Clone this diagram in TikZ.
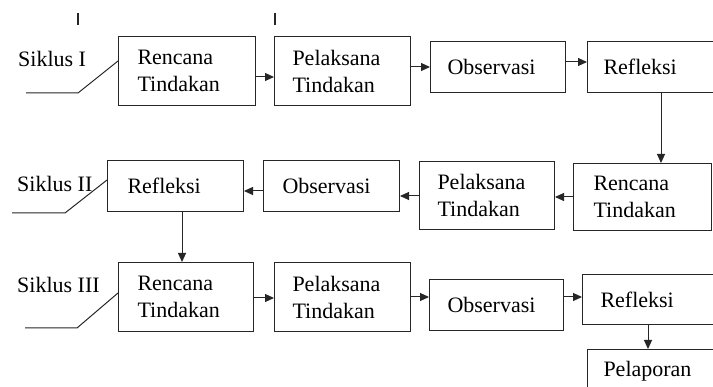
\documentclass[tikz,border=0pt]{standalone}
\usepackage{fontspec}
\setmainfont{Liberation Serif}
\usetikzlibrary{arrows.meta}
\begin{document}
\begin{tikzpicture}[x=1pt,y=-1pt,
 box/.style={draw=black!85, line width=1pt, inner xsep=0pt, inner ysep=0pt, align=left, anchor=north west, font=\fontsize{22}{27}\selectfont},
 arr/.style={draw=black!85, line width=1pt, -{Triangle[length=9pt,width=8pt]}},
 lbl/.style={font=\fontsize{22}{27}\selectfont, anchor=base west, inner sep=0pt},
 ln/.style={draw=black!85, line width=1pt}]
\useasboundingbox (0,0) rectangle (713,387);
% row 1
\node[box, minimum width=137pt, minimum height=69pt, text width=99pt] (r1) at (118,36) {Rencana\\Tindakan};
\node[box, minimum width=136pt, minimum height=69pt, text width=100pt] (p1) at (274,36) {Pelaksana\\Tindakan};
\node[box, minimum width=135pt, minimum height=51pt, text width=101pt] (o1) at (430,41) {Observasi};
\node[box, minimum width=129pt, minimum height=51pt, text width=97pt] (f1) at (587,41) {Refleksi};
% row 2
\node[box, minimum width=136pt, minimum height=51pt, text width=96pt] (f2) at (107,160) {Refleksi};
\node[box, minimum width=136pt, minimum height=51pt, text width=98pt] (o2) at (263,160) {Observasi};
\node[box, minimum width=135pt, minimum height=68pt, text width=99pt] (p2) at (419,161) {Pelaksana\\Tindakan};
\node[box, minimum width=138pt, minimum height=67pt, text width=98pt] (r2) at (573,163) {Rencana\\Tindakan};
% row 3
\node[box, minimum width=135pt, minimum height=69pt, text width=97pt] (r3) at (118,262) {Rencana\\Tindakan};
\node[box, minimum width=136pt, minimum height=69pt, text width=100pt] (p3) at (274,262) {Pelaksana\\Tindakan};
\node[box, minimum width=134pt, minimum height=51pt, text width=98pt] (o3) at (429,279) {Observasi};
\node[box, minimum width=134pt, minimum height=50pt, text width=98pt] (f3) at (582,274) {Refleksi};
\node[box, minimum width=129pt, minimum height=44pt, text width=97pt] (pl) at (587,349) {Pelaporan};
% labels
\node[lbl] (s1) at (18,67) {Siklus I};
\node[lbl] (s2) at (17,192) {Siklus II};
\node[lbl] (s3) at (17,293) {Siklus III};
% helper coordinates
\coordinate (ya) at (0,77);
\coordinate (yb) at (0,67);
\coordinate (yc) at (0,62);
\coordinate (yd) at (0,191);
\coordinate (ye) at (0,196);
\coordinate (yf) at (0,197);
\coordinate (yg) at (0,298);
\coordinate (yh) at (0,297);
\coordinate (xa) at (661,0);
\coordinate (xb) at (182,0);
\coordinate (xc) at (648,0);
% arrows row 1
\draw[arr] (r1.east |- ya) -- (p1.west |- ya);
\draw[arr] (p1.east |- yb) -- (o1.west |- yb);
\draw[arr] (o1.east |- yc) -- (f1.west |- yc);
\draw[arr] (f1.south -| xa) -- (r2.north -| xa);
% arrows row 2
\draw[arr] (r2.west |- yf) -- (p2.east |- yf);
\draw[arr] (p2.west |- ye) -- (o2.east |- ye);
\draw[arr] (o2.west |- yd) -- (f2.east |- yd);
\draw[arr] (f2.south -| xb) -- (r3.north -| xb);
% arrows row 3
\draw[arr] (r3.east |- yg) -- (p3.west |- yg);
\draw[arr] (p3.east |- yh) -- (o3.west |- yh);
\draw[arr] (o3.east |- yh) -- (f3.west |- yh);
\draw[arr] (f3.south -| xc) -- (pl.north -| xc);
% cycle lines
\coordinate (a1) at (26,93);
\coordinate (b1) at (78,93);
\coordinate (a2) at (12,213);
\coordinate (b2) at (65,213);
\coordinate (a3) at (25,328);
\coordinate (b3) at (77,328);
\coordinate (e1) at (0,61);
\coordinate (e2) at (0,180);
\coordinate (e3) at (0,293);
\draw[ln] (a1) -- (b1) -- (r1.west |- e1);
\draw[ln] (a2) -- (b2) -- (f2.west |- e2);
\draw[ln] (a3) -- (b3) -- (r3.west |- e3);
% tick marks
\draw[line width=1.5pt, black!85] (78,13) -- (78,25);
\draw[line width=1.5pt, black!85] (275,13) -- (275,25);
\end{tikzpicture}
\end{document}
